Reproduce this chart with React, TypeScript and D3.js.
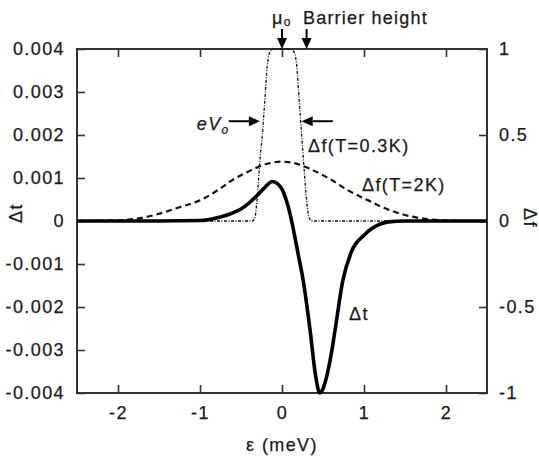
import React, { useEffect, useRef } from "react"
import * as d3 from "d3"

// energy (meV) and the three curves
const dtEps = [-2.5, -1.5, -1.0, -0.9, -0.8, -0.7, -0.6, -0.5, -0.4, -0.3, -0.2, -0.12, -0.05, 0, 0.05, 0.1, 0.15, 0.2, 0.26, 0.34, 0.41, 0.46, 0.5, 0.54, 0.6, 0.65, 0.74, 0.85, 1.0, 1.1, 1.2, 1.3, 1.5, 2.5]
const dtVals = [0, 0, 0.01, 0.03, 0.07, 0.12, 0.19, 0.28, 0.42, 0.6, 0.8, 0.92, 0.86, 0.74, 0.5, 0.15, -0.3, -0.8, -1.4, -2.5, -3.6, -4.0, -3.9, -3.65, -3.1, -2.5, -1.4, -0.7, -0.33, -0.17, -0.07, -0.02, 0, 0] // x 0.001

const f2Eps = [-2.5, -2, -1.75, -1.5, -1.25, -1, -0.75, -0.6, -0.4, -0.2, 0, 0.2, 0.4, 0.6, 0.8, 1.05, 1.25, 1.5, 1.75, 2, 2.5]
const f2Vals = [0, 0.004, 0.015, 0.042, 0.08, 0.12, 0.19, 0.24, 0.29, 0.33, 0.345, 0.33, 0.29, 0.24, 0.18, 0.12, 0.075, 0.035, 0.012, 0.003, 0]

const f03Eps = [-2.5, -0.36, -0.33, -0.3, -0.27, -0.24, -0.21, -0.18, -0.15, -0.1, 0, 0.1, 0.15, 0.18, 0.21, 0.24, 0.27, 0.3, 0.33, 0.36, 2.5]
const f03Vals = [0, 0, 0.02, 0.15, 0.35, 0.5, 0.7, 0.9, 0.98, 1, 1, 1, 0.98, 0.9, 0.7, 0.5, 0.3, 0.12, 0.02, 0, 0]

const xTicks = [-2, -1, 0, 1, 2]
const leftTicks = [0.004, 0.003, 0.002, 0.001, 0, -0.001, -0.002, -0.003, -0.004]
const rightTicks = [1, 0.5, 0, -0.5, -1]

const W = 539
const H = 466
const FONT = "'Liberation Sans', Arial, sans-serif"
const INK = "#1a1a1a"

export default function App() {
  const ref = useRef<SVGSVGElement>(null)

  useEffect(() => {
    const svg = d3.select(ref.current)
    svg.selectAll("*").remove()
    const m = { left: 77, right: 52, top: 49, bottom: 73 }
    const x = d3.scaleLinear().domain([-2.5, 2.5]).range([m.left, W - m.right])
    const yL = d3.scaleLinear().domain([-0.004, 0.004]).range([H - m.bottom, m.top])
    const yR = d3.scaleLinear().domain([-1, 1]).range([H - m.bottom, m.top])

    const txt = (g: any) => g.attr("font-family", FONT).attr("font-size", 18).attr("letter-spacing", 1.4)
      .attr("fill", INK).attr("stroke", INK).attr("stroke-width", 0.25)

    // axes with inward ticks
    const tl = 8
    svg.append("g").attr("transform", `translate(0,${H - m.bottom})`)
      .call(d3.axisBottom(x).tickValues(xTicks).tickSize(-tl).tickPadding(13).tickFormat((d: any) => String(d)))
      .call(txt)
    svg.append("g").attr("transform", `translate(0,${m.top})`)
      .call(d3.axisTop(x).tickValues(xTicks).tickSize(-tl).tickFormat(() => ""))
    svg.append("g").attr("transform", `translate(${m.left},0)`)
      .call(d3.axisLeft(yL).tickValues(leftTicks).tickSize(-tl).tickPadding(12)
        .tickFormat((d: any) => d === 0 ? "0" : d.toFixed(3)))
      .call(txt)
    svg.append("g").attr("transform", `translate(${W - m.right},0)`)
      .call(d3.axisRight(yR).tickValues(rightTicks).tickSize(-tl).tickPadding(12).tickFormat((d: any) => String(d)))
      .call(txt)
    svg.selectAll(".domain").remove()
    svg.selectAll(".tick line").attr("stroke", "#333").attr("stroke-width", 1.6)
    svg.selectAll(".tick text").attr("fill", INK)

    svg.append("rect")
      .attr("x", m.left).attr("y", m.top)
      .attr("width", W - m.left - m.right).attr("height", H - m.top - m.bottom)
      .attr("fill", "none").attr("stroke", "#333").attr("stroke-width", 2)

    // curves
    const lineL = d3.line<number>().x((d, i) => x(dtEps[i])).y(d => yL(d / 1000)).curve(d3.curveMonotoneX)
    const f2Line = d3.line<number>().x((d, i) => x(f2Eps[i])).y(d => yR(d)).curve(d3.curveMonotoneX)
    const f03Line = d3.line<number>().x((d, i) => x(f03Eps[i])).y(d => yR(d)).curve(d3.curveMonotoneX)

    svg.append("path").attr("d", f03Line(f03Vals)).attr("fill", "none")
      .attr("stroke", "#111").attr("stroke-width", 1.3).attr("stroke-dasharray", "3,1.5,1,1.5")
    svg.append("path").attr("d", f2Line(f2Vals)).attr("fill", "none")
      .attr("stroke", "#111").attr("stroke-width", 2.2).attr("stroke-dasharray", "6,4")
    svg.append("path").attr("d", lineL(dtVals)).attr("fill", "none")
      .attr("stroke", "#000").attr("stroke-width", 3.6).attr("stroke-linejoin", "round")

    // arrows
    const arrow = (x1: number, y1: number, x2: number, y2: number) => {
      const a = Math.atan2(y2 - y1, x2 - x1)
      const hl = 11, hw = 5
      const bx = x2 - hl * Math.cos(a), by = y2 - hl * Math.sin(a)
      svg.append("line").attr("x1", x1).attr("y1", y1).attr("x2", bx).attr("y2", by)
        .attr("stroke", "#000").attr("stroke-width", 2)
      svg.append("path")
        .attr("d", `M${x2},${y2}L${bx - hw * Math.sin(a)},${by + hw * Math.cos(a)}L${bx + hw * Math.sin(a)},${by - hw * Math.cos(a)}Z`)
        .attr("fill", "#000")
    }
    arrow(x(0), 29, x(0), m.top)
    arrow(x(0.3), 29, x(0.3), m.top)
    const ya = yR(0.58)
    arrow(x(-0.65), ya, x(-0.27), ya)
    arrow(x(0.62), ya, x(0.24), ya)

    const label = (tx: number, ty: number, s: string) =>
      svg.append("text").attr("x", tx).attr("y", ty).text(s).call(txt)

    // top labels
    const mu = svg.append("text").attr("x", 272).attr("y", 24).call(txt)
    mu.append("tspan").text("μ")
    mu.append("tspan").attr("font-size", 12).attr("dy", 2).text("o")
    label(303, 24, "Barrier height").attr("letter-spacing", 1.2)

    const ev = svg.append("text").attr("x", x(-1.04)).attr("y", ya + 9).call(txt).attr("font-style", "italic")
    ev.append("tspan").text("eV")
    ev.append("tspan").attr("font-size", 12).attr("dy", 4).text("o")

    label(308, 152, "Δf(T=0.3K)")
    label(362, 191, "Δf(T=2K)")
    label(349, 320, "Δt")

    // axis titles
    svg.append("text").attr("x", x(0)).attr("y", 451).attr("text-anchor", "middle").text("ε (meV)").call(txt)
    svg.append("text").attr("transform", `translate(22,${yL(0) - 8}) rotate(-90)`)
      .attr("text-anchor", "middle").text("Δt").call(txt)
    svg.append("text").attr("transform", `translate(524,${yR(0) - 3}) rotate(90)`)
      .attr("text-anchor", "middle").text("Δf").call(txt)
  }, [])

  return (
    <svg ref={ref} width={W} height={H}
      style={{ position: "absolute", left: 0, top: 0, background: "#fff" }} />
  )
}
